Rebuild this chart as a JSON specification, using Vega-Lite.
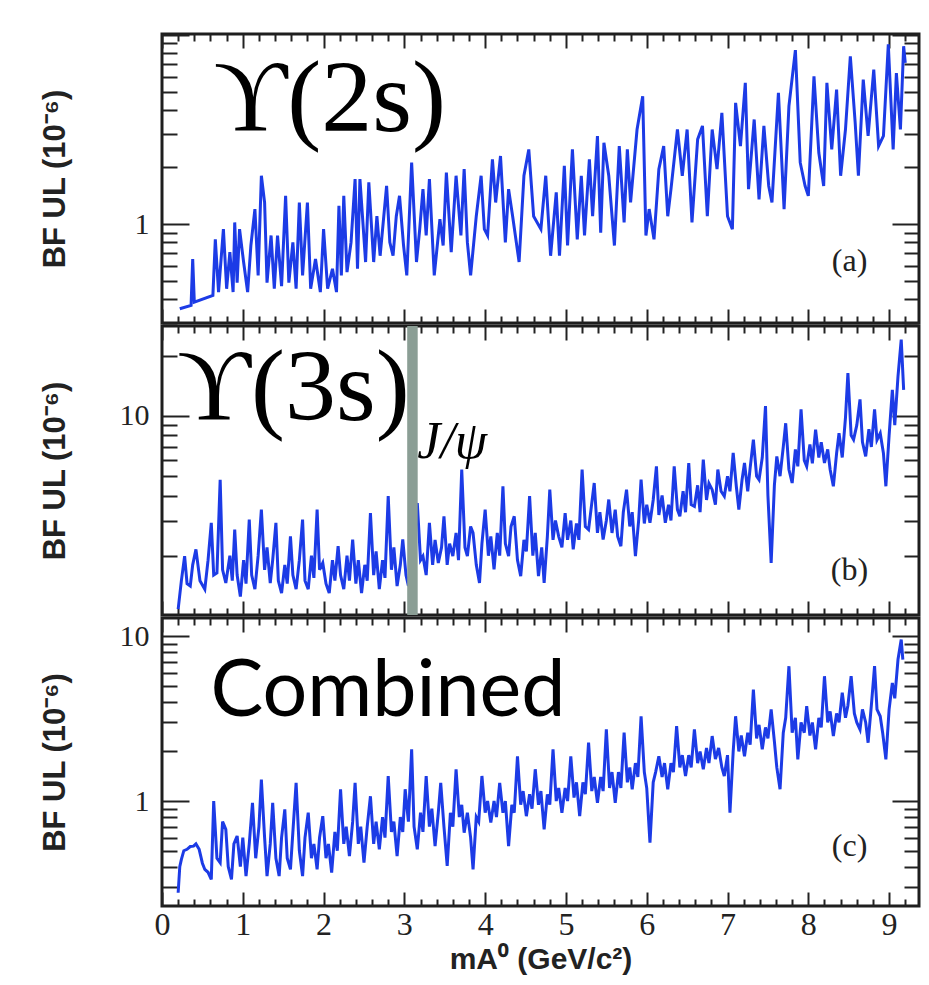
{
  "$schema": "https://vega.github.io/schema/vega-lite/v6.json",
  "padding": {"left": 37, "top": 31, "right": 0, "bottom": 0},
  "background": "white",
  "spacing": -3,
  "config": {
    "view": {"stroke": "#1e1e1e", "strokeWidth": 3},
    "axis": {"grid": false, "domain": false, "tickColor": "#222", "tickWidth": 2, "labelColor": "#222", "labelFont": "Liberation Serif", "titleColor": "#222", "titleFont": "Liberation Sans", "titleFontWeight": "bold", "labelOverlap": false, "labelFlush": false, "labelBound": false}
  },
  "datasets": {
    "a": [
      {"m":0.22,"ul":0.357},{"m":0.36,"ul":0.372},{"m":0.38,"ul":0.654},{"m":0.40,"ul":0.387},{"m":0.63,"ul":0.42},{"m":0.66,"ul":0.83},{"m":0.70,"ul":0.437},{"m":0.76,"ul":0.94},{"m":0.80,"ul":0.455},{"m":0.84,"ul":0.71},{"m":0.88,"ul":0.437},{"m":0.90,"ul":1.02},{"m":0.93,"ul":0.49},{"m":0.96,"ul":0.94},{"m":1.01,"ul":0.63},{"m":1.06,"ul":0.437},{"m":1.10,"ul":0.77},{"m":1.15,"ul":1.2},{"m":1.19,"ul":0.535},{"m":1.23,"ul":1.8},{"m":1.27,"ul":1.3},{"m":1.30,"ul":0.49},{"m":1.35,"ul":0.87},{"m":1.39,"ul":0.455},{"m":1.43,"ul":0.87},{"m":1.48,"ul":0.47},{"m":1.53,"ul":1.41},{"m":1.57,"ul":0.49},{"m":1.62,"ul":0.80},{"m":1.66,"ul":0.455},{"m":1.70,"ul":1.3},{"m":1.74,"ul":0.535},{"m":1.80,"ul":1.3},{"m":1.84,"ul":0.455},{"m":1.90,"ul":0.654},{"m":1.96,"ul":0.437},{"m":2.00,"ul":0.94},{"m":2.05,"ul":0.455},{"m":2.11,"ul":0.58},{"m":2.16,"ul":0.437},{"m":2.19,"ul":1.25},{"m":2.22,"ul":0.535},{"m":2.25,"ul":1.41},{"m":2.29,"ul":0.557},{"m":2.34,"ul":0.80},{"m":2.39,"ul":1.73},{"m":2.42,"ul":0.58},{"m":2.45,"ul":1.73},{"m":2.52,"ul":0.63},{"m":2.56,"ul":1.66},{"m":2.62,"ul":0.63},{"m":2.66,"ul":1.1},{"m":2.70,"ul":0.68},{"m":2.78,"ul":1.59},{"m":2.82,"ul":0.80},{"m":2.86,"ul":0.68},{"m":2.90,"ul":1.1},{"m":2.94,"ul":1.41},{"m":2.99,"ul":0.77},{"m":3.03,"ul":0.535},{"m":3.09,"ul":2.11},{"m":3.15,"ul":0.63},{"m":3.19,"ul":0.94},{"m":3.23,"ul":1.53},{"m":3.27,"ul":0.87},{"m":3.31,"ul":1.73},{"m":3.37,"ul":0.535},{"m":3.44,"ul":1.06},{"m":3.48,"ul":0.77},{"m":3.52,"ul":1.87},{"m":3.58,"ul":0.71},{"m":3.64,"ul":1.8},{"m":3.70,"ul":0.87},{"m":3.74,"ul":1.95},{"m":3.78,"ul":0.80},{"m":3.82,"ul":0.535},{"m":3.89,"ul":1.1},{"m":3.95,"ul":1.8},{"m":3.99,"ul":0.94},{"m":4.03,"ul":0.87},{"m":4.09,"ul":2.2},{"m":4.13,"ul":1.3},{"m":4.19,"ul":2.29},{"m":4.25,"ul":0.80},{"m":4.29,"ul":1.53},{"m":4.34,"ul":1.1},{"m":4.42,"ul":0.63},{"m":4.48,"ul":1.8},{"m":4.54,"ul":2.48},{"m":4.60,"ul":1.1},{"m":4.69,"ul":0.94},{"m":4.75,"ul":1.8},{"m":4.81,"ul":0.68},{"m":4.88,"ul":1.47},{"m":4.92,"ul":0.68},{"m":4.98,"ul":2.03},{"m":5.02,"ul":0.77},{"m":5.08,"ul":2.48},{"m":5.14,"ul":0.83},{"m":5.19,"ul":1.8},{"m":5.23,"ul":0.87},{"m":5.29,"ul":2.2},{"m":5.33,"ul":1.1},{"m":5.39,"ul":2.92},{"m":5.43,"ul":0.90},{"m":5.47,"ul":2.69},{"m":5.53,"ul":1.8},{"m":5.60,"ul":0.77},{"m":5.66,"ul":2.58},{"m":5.72,"ul":1.02},{"m":5.76,"ul":2.48},{"m":5.80,"ul":1.3},{"m":5.88,"ul":3.16},{"m":5.95,"ul":4.73},{"m":5.99,"ul":0.87},{"m":6.03,"ul":1.2},{"m":6.09,"ul":0.83},{"m":6.15,"ul":1.95},{"m":6.21,"ul":2.58},{"m":6.26,"ul":1.1},{"m":6.30,"ul":1.53},{"m":6.38,"ul":3.16},{"m":6.44,"ul":1.8},{"m":6.50,"ul":3.16},{"m":6.56,"ul":1.02},{"m":6.63,"ul":2.8},{"m":6.69,"ul":3.3},{"m":6.75,"ul":1.1},{"m":6.81,"ul":3.16},{"m":6.87,"ul":1.95},{"m":6.93,"ul":3.87},{"m":7.00,"ul":1.1},{"m":7.06,"ul":0.94},{"m":7.10,"ul":4.37},{"m":7.16,"ul":2.58},{"m":7.22,"ul":5.57},{"m":7.26,"ul":1.53},{"m":7.33,"ul":3.57},{"m":7.39,"ul":1.35},{"m":7.45,"ul":3.3},{"m":7.51,"ul":1.59},{"m":7.55,"ul":1.3},{"m":7.63,"ul":4.93},{"m":7.70,"ul":1.2},{"m":7.76,"ul":4.2},{"m":7.84,"ul":8.3},{"m":7.90,"ul":2.11},{"m":7.96,"ul":1.59},{"m":8.00,"ul":1.41},{"m":8.07,"ul":6.03},{"m":8.13,"ul":2.38},{"m":8.19,"ul":1.59},{"m":8.23,"ul":5.57},{"m":8.29,"ul":2.48},{"m":8.35,"ul":5.13},{"m":8.40,"ul":1.8},{"m":8.46,"ul":3.16},{"m":8.52,"ul":7.7},{"m":8.58,"ul":3.43},{"m":8.62,"ul":1.8},{"m":8.68,"ul":5.8},{"m":8.74,"ul":2.92},{"m":8.81,"ul":6.54},{"m":8.87,"ul":2.58},{"m":8.93,"ul":2.92},{"m":8.99,"ul":8.9},{"m":9.05,"ul":2.48},{"m":9.09,"ul":6.27},{"m":9.14,"ul":3.16},{"m":9.18,"ul":8.7},{"m":9.20,"ul":7.1}
    ],
    "b": [
      {"m":0.20,"ul":1.08},{"m":0.24,"ul":1.5},{"m":0.28,"ul":1.99},{"m":0.31,"ul":1.45},{"m":0.35,"ul":1.41},{"m":0.38,"ul":1.8},{"m":0.42,"ul":2.15},{"m":0.47,"ul":1.5},{"m":0.53,"ul":1.36},{"m":0.57,"ul":1.9},{"m":0.61,"ul":2.92},{"m":0.64,"ul":1.6},{"m":0.68,"ul":1.64},{"m":0.72,"ul":4.8},{"m":0.75,"ul":1.7},{"m":0.79,"ul":1.46},{"m":0.84,"ul":2.0},{"m":0.87,"ul":1.5},{"m":0.90,"ul":2.7},{"m":0.93,"ul":1.6},{"m":0.97,"ul":1.25},{"m":1.01,"ul":1.9},{"m":1.04,"ul":1.45},{"m":1.08,"ul":3.03},{"m":1.11,"ul":1.6},{"m":1.15,"ul":1.36},{"m":1.19,"ul":2.0},{"m":1.23,"ul":3.4},{"m":1.27,"ul":1.7},{"m":1.30,"ul":2.2},{"m":1.34,"ul":1.46},{"m":1.37,"ul":1.9},{"m":1.41,"ul":2.92},{"m":1.44,"ul":1.5},{"m":1.48,"ul":1.30},{"m":1.52,"ul":1.8},{"m":1.55,"ul":1.45},{"m":1.59,"ul":2.5},{"m":1.62,"ul":1.6},{"m":1.66,"ul":1.36},{"m":1.70,"ul":1.9},{"m":1.74,"ul":3.03},{"m":1.77,"ul":1.5},{"m":1.81,"ul":1.36},{"m":1.85,"ul":2.0},{"m":1.88,"ul":1.55},{"m":1.92,"ul":3.4},{"m":1.95,"ul":1.7},{"m":1.99,"ul":1.84},{"m":2.03,"ul":1.45},{"m":2.07,"ul":1.30},{"m":2.11,"ul":1.9},{"m":2.14,"ul":1.5},{"m":2.18,"ul":2.23},{"m":2.21,"ul":1.6},{"m":2.25,"ul":1.36},{"m":2.29,"ul":2.0},{"m":2.32,"ul":1.5},{"m":2.36,"ul":2.41},{"m":2.40,"ul":1.45},{"m":2.43,"ul":1.9},{"m":2.47,"ul":1.30},{"m":2.51,"ul":1.8},{"m":2.54,"ul":1.5},{"m":2.58,"ul":3.27},{"m":2.62,"ul":1.6},{"m":2.65,"ul":2.1},{"m":2.69,"ul":1.36},{"m":2.73,"ul":1.9},{"m":2.76,"ul":1.55},{"m":2.80,"ul":3.97},{"m":2.84,"ul":1.7},{"m":2.87,"ul":2.2},{"m":2.91,"ul":1.41},{"m":2.95,"ul":1.8},{"m":2.98,"ul":2.41},{"m":3.02,"ul":1.6},{"m":3.05,"ul":1.41},{"m":3.10,"ul":2.0},{"m":3.16,"ul":3.67},{"m":3.20,"ul":1.9},{"m":3.23,"ul":1.99},{"m":3.27,"ul":1.6},{"m":3.31,"ul":2.92},{"m":3.35,"ul":1.8},{"m":3.38,"ul":2.4},{"m":3.42,"ul":1.84},{"m":3.46,"ul":2.2},{"m":3.49,"ul":3.15},{"m":3.53,"ul":1.8},{"m":3.56,"ul":2.3},{"m":3.60,"ul":1.99},{"m":3.64,"ul":2.6},{"m":3.67,"ul":1.9},{"m":3.71,"ul":5.4},{"m":3.75,"ul":2.2},{"m":3.78,"ul":1.99},{"m":3.82,"ul":2.8},{"m":3.85,"ul":2.6},{"m":3.89,"ul":1.8},{"m":3.93,"ul":1.46},{"m":3.96,"ul":2.3},{"m":4.00,"ul":3.4},{"m":4.04,"ul":2.0},{"m":4.07,"ul":2.5},{"m":4.11,"ul":1.71},{"m":4.15,"ul":2.6},{"m":4.18,"ul":2.0},{"m":4.22,"ul":4.45},{"m":4.25,"ul":2.3},{"m":4.29,"ul":1.99},{"m":4.32,"ul":2.8},{"m":4.36,"ul":3.15},{"m":4.40,"ul":1.9},{"m":4.44,"ul":1.58},{"m":4.48,"ul":2.4},{"m":4.51,"ul":2.1},{"m":4.55,"ul":3.97},{"m":4.59,"ul":2.0},{"m":4.62,"ul":2.6},{"m":4.66,"ul":1.58},{"m":4.70,"ul":2.2},{"m":4.73,"ul":1.46},{"m":4.77,"ul":2.5},{"m":4.80,"ul":4.28},{"m":4.84,"ul":2.4},{"m":4.87,"ul":3.0},{"m":4.91,"ul":2.5},{"m":4.95,"ul":2.2},{"m":4.99,"ul":3.27},{"m":5.02,"ul":2.4},{"m":5.06,"ul":3.0},{"m":5.09,"ul":2.15},{"m":5.13,"ul":2.9},{"m":5.16,"ul":2.4},{"m":5.20,"ul":5.4},{"m":5.24,"ul":2.8},{"m":5.28,"ul":2.7},{"m":5.31,"ul":3.4},{"m":5.35,"ul":4.62},{"m":5.39,"ul":2.6},{"m":5.42,"ul":3.3},{"m":5.46,"ul":2.41},{"m":5.50,"ul":3.0},{"m":5.53,"ul":3.82},{"m":5.57,"ul":2.6},{"m":5.61,"ul":3.4},{"m":5.64,"ul":2.5},{"m":5.68,"ul":2.23},{"m":5.71,"ul":3.3},{"m":5.75,"ul":4.28},{"m":5.79,"ul":2.8},{"m":5.82,"ul":3.3},{"m":5.86,"ul":1.99},{"m":5.90,"ul":3.0},{"m":5.93,"ul":4.8},{"m":5.97,"ul":2.9},{"m":6.00,"ul":3.6},{"m":6.04,"ul":2.92},{"m":6.08,"ul":3.8},{"m":6.12,"ul":5.6},{"m":6.15,"ul":3.2},{"m":6.19,"ul":4.0},{"m":6.23,"ul":2.92},{"m":6.27,"ul":3.6},{"m":6.30,"ul":3.0},{"m":6.34,"ul":5.6},{"m":6.38,"ul":3.4},{"m":6.41,"ul":3.15},{"m":6.45,"ul":4.2},{"m":6.48,"ul":3.3},{"m":6.52,"ul":5.82},{"m":6.55,"ul":3.6},{"m":6.59,"ul":3.53},{"m":6.63,"ul":4.5},{"m":6.66,"ul":3.3},{"m":6.70,"ul":6.05},{"m":6.74,"ul":3.8},{"m":6.77,"ul":4.6},{"m":6.81,"ul":4.28},{"m":6.85,"ul":3.6},{"m":6.88,"ul":5.4},{"m":6.92,"ul":4.2},{"m":6.96,"ul":3.97},{"m":7.00,"ul":5.0},{"m":7.03,"ul":4.2},{"m":7.07,"ul":6.53},{"m":7.11,"ul":4.4},{"m":7.14,"ul":3.4},{"m":7.18,"ul":4.8},{"m":7.21,"ul":5.82},{"m":7.25,"ul":4.2},{"m":7.28,"ul":5.5},{"m":7.32,"ul":7.62},{"m":7.36,"ul":5.0},{"m":7.39,"ul":4.8},{"m":7.43,"ul":6.2},{"m":7.47,"ul":11.2},{"m":7.50,"ul":4.0},{"m":7.54,"ul":1.84},{"m":7.58,"ul":4.5},{"m":7.61,"ul":6.28},{"m":7.65,"ul":5.0},{"m":7.69,"ul":7.0},{"m":7.72,"ul":9.2},{"m":7.76,"ul":5.4},{"m":7.80,"ul":4.62},{"m":7.84,"ul":6.8},{"m":7.87,"ul":5.6},{"m":7.91,"ul":10.8},{"m":7.95,"ul":6.0},{"m":7.98,"ul":5.6},{"m":8.02,"ul":7.2},{"m":8.05,"ul":5.8},{"m":8.09,"ul":8.55},{"m":8.13,"ul":6.2},{"m":8.16,"ul":7.4},{"m":8.20,"ul":5.82},{"m":8.24,"ul":6.8},{"m":8.27,"ul":5.4},{"m":8.31,"ul":4.45},{"m":8.35,"ul":6.5},{"m":8.38,"ul":8.2},{"m":8.42,"ul":6.2},{"m":8.46,"ul":9.8},{"m":8.49,"ul":16.4},{"m":8.53,"ul":8.0},{"m":8.56,"ul":7.62},{"m":8.60,"ul":9.0},{"m":8.64,"ul":12.1},{"m":8.67,"ul":7.4},{"m":8.71,"ul":6.28},{"m":8.75,"ul":8.6},{"m":8.78,"ul":7.0},{"m":8.82,"ul":10.8},{"m":8.85,"ul":7.6},{"m":8.89,"ul":8.2},{"m":8.93,"ul":6.5},{"m":8.96,"ul":4.45},{"m":9.00,"ul":8.0},{"m":9.04,"ul":13.5},{"m":9.07,"ul":9.0},{"m":9.11,"ul":15.8},{"m":9.15,"ul":24.1},{"m":9.18,"ul":13.5}
    ],
    "c": [
      {"m":0.20,"ul":0.278},{"m":0.22,"ul":0.40},{"m":0.24,"ul":0.443},{"m":0.27,"ul":0.50},{"m":0.31,"ul":0.51},{"m":0.35,"ul":0.53},{"m":0.39,"ul":0.533},{"m":0.42,"ul":0.55},{"m":0.46,"ul":0.51},{"m":0.50,"ul":0.42},{"m":0.53,"ul":0.385},{"m":0.57,"ul":0.37},{"m":0.61,"ul":0.335},{"m":0.64,"ul":1.0},{"m":0.68,"ul":0.45},{"m":0.72,"ul":0.423},{"m":0.75,"ul":0.75},{"m":0.79,"ul":0.673},{"m":0.82,"ul":0.40},{"m":0.86,"ul":0.335},{"m":0.89,"ul":0.55},{"m":0.93,"ul":0.614},{"m":0.97,"ul":0.40},{"m":1.00,"ul":0.60},{"m":1.04,"ul":0.351},{"m":1.08,"ul":0.55},{"m":1.12,"ul":0.977},{"m":1.16,"ul":0.45},{"m":1.20,"ul":0.70},{"m":1.23,"ul":1.35},{"m":1.27,"ul":0.60},{"m":1.30,"ul":0.351},{"m":1.34,"ul":0.55},{"m":1.37,"ul":0.977},{"m":1.41,"ul":0.45},{"m":1.45,"ul":0.351},{"m":1.48,"ul":0.60},{"m":1.52,"ul":0.89},{"m":1.55,"ul":0.45},{"m":1.59,"ul":0.385},{"m":1.62,"ul":0.65},{"m":1.66,"ul":1.29},{"m":1.70,"ul":0.50},{"m":1.74,"ul":0.351},{"m":1.77,"ul":0.60},{"m":1.81,"ul":0.85},{"m":1.85,"ul":0.45},{"m":1.88,"ul":0.55},{"m":1.92,"ul":0.385},{"m":1.95,"ul":0.60},{"m":1.99,"ul":0.81},{"m":2.03,"ul":0.45},{"m":2.06,"ul":0.55},{"m":2.10,"ul":0.368},{"m":2.14,"ul":0.65},{"m":2.17,"ul":0.50},{"m":2.21,"ul":1.18},{"m":2.25,"ul":0.55},{"m":2.28,"ul":0.70},{"m":2.32,"ul":0.464},{"m":2.36,"ul":0.75},{"m":2.39,"ul":1.29},{"m":2.43,"ul":0.55},{"m":2.46,"ul":0.70},{"m":2.50,"ul":0.423},{"m":2.54,"ul":0.70},{"m":2.58,"ul":1.07},{"m":2.62,"ul":0.55},{"m":2.65,"ul":0.75},{"m":2.69,"ul":0.51},{"m":2.73,"ul":0.80},{"m":2.76,"ul":0.60},{"m":2.80,"ul":1.42},{"m":2.84,"ul":0.65},{"m":2.87,"ul":0.75},{"m":2.91,"ul":0.464},{"m":2.95,"ul":0.80},{"m":2.98,"ul":0.65},{"m":3.01,"ul":1.18},{"m":3.05,"ul":0.75},{"m":3.09,"ul":2.06},{"m":3.12,"ul":0.70},{"m":3.16,"ul":0.51},{"m":3.20,"ul":0.85},{"m":3.23,"ul":0.65},{"m":3.27,"ul":1.42},{"m":3.31,"ul":0.70},{"m":3.34,"ul":0.90},{"m":3.38,"ul":0.533},{"m":3.42,"ul":0.85},{"m":3.45,"ul":1.29},{"m":3.49,"ul":0.70},{"m":3.53,"ul":0.404},{"m":3.57,"ul":0.85},{"m":3.60,"ul":0.70},{"m":3.64,"ul":1.56},{"m":3.68,"ul":0.80},{"m":3.71,"ul":0.95},{"m":3.74,"ul":0.643},{"m":3.78,"ul":0.85},{"m":3.82,"ul":0.60},{"m":3.85,"ul":0.385},{"m":3.89,"ul":0.80},{"m":3.92,"ul":0.75},{"m":3.96,"ul":1.42},{"m":4.00,"ul":0.85},{"m":4.03,"ul":1.0},{"m":4.07,"ul":0.74},{"m":4.11,"ul":1.0},{"m":4.14,"ul":0.80},{"m":4.18,"ul":1.29},{"m":4.22,"ul":0.85},{"m":4.25,"ul":1.0},{"m":4.29,"ul":0.533},{"m":4.33,"ul":0.95},{"m":4.36,"ul":0.85},{"m":4.40,"ul":1.87},{"m":4.44,"ul":0.95},{"m":4.47,"ul":1.15},{"m":4.51,"ul":0.81},{"m":4.55,"ul":1.1},{"m":4.58,"ul":0.90},{"m":4.62,"ul":1.56},{"m":4.66,"ul":0.95},{"m":4.69,"ul":1.15},{"m":4.73,"ul":0.673},{"m":4.77,"ul":1.1},{"m":4.80,"ul":0.95},{"m":4.84,"ul":2.06},{"m":4.88,"ul":1.0},{"m":4.91,"ul":1.2},{"m":4.95,"ul":0.85},{"m":4.99,"ul":1.2},{"m":5.02,"ul":1.0},{"m":5.06,"ul":1.87},{"m":5.10,"ul":1.05},{"m":5.13,"ul":1.3},{"m":5.17,"ul":0.81},{"m":5.21,"ul":1.3},{"m":5.24,"ul":1.1},{"m":5.28,"ul":2.26},{"m":5.32,"ul":1.15},{"m":5.35,"ul":1.4},{"m":5.39,"ul":0.977},{"m":5.43,"ul":1.4},{"m":5.46,"ul":1.15},{"m":5.50,"ul":2.72},{"m":5.54,"ul":1.2},{"m":5.57,"ul":1.5},{"m":5.61,"ul":0.977},{"m":5.65,"ul":1.5},{"m":5.68,"ul":1.2},{"m":5.72,"ul":2.6},{"m":5.76,"ul":1.3},{"m":5.79,"ul":1.6},{"m":5.82,"ul":1.18},{"m":5.86,"ul":1.7},{"m":5.89,"ul":1.4},{"m":5.93,"ul":3.27},{"m":5.97,"ul":1.5},{"m":6.00,"ul":1.2},{"m":6.04,"ul":0.56},{"m":6.08,"ul":1.3},{"m":6.11,"ul":1.5},{"m":6.15,"ul":1.87},{"m":6.19,"ul":1.4},{"m":6.22,"ul":1.7},{"m":6.26,"ul":1.18},{"m":6.30,"ul":1.7},{"m":6.33,"ul":1.5},{"m":6.37,"ul":2.85},{"m":6.41,"ul":1.6},{"m":6.44,"ul":1.9},{"m":6.48,"ul":1.42},{"m":6.52,"ul":1.9},{"m":6.55,"ul":1.6},{"m":6.59,"ul":2.72},{"m":6.63,"ul":1.7},{"m":6.66,"ul":2.0},{"m":6.70,"ul":1.56},{"m":6.74,"ul":2.1},{"m":6.77,"ul":1.7},{"m":6.81,"ul":2.48},{"m":6.85,"ul":1.8},{"m":6.89,"ul":2.1},{"m":6.93,"ul":1.6},{"m":6.96,"ul":1.42},{"m":7.00,"ul":1.9},{"m":7.03,"ul":0.85},{"m":7.07,"ul":2.0},{"m":7.10,"ul":3.27},{"m":7.14,"ul":2.0},{"m":7.17,"ul":2.5},{"m":7.21,"ul":1.87},{"m":7.25,"ul":2.6},{"m":7.28,"ul":2.2},{"m":7.32,"ul":4.75},{"m":7.36,"ul":2.4},{"m":7.39,"ul":2.9},{"m":7.43,"ul":2.06},{"m":7.47,"ul":2.8},{"m":7.50,"ul":2.4},{"m":7.54,"ul":3.6},{"m":7.58,"ul":2.3},{"m":7.61,"ul":1.6},{"m":7.65,"ul":1.18},{"m":7.69,"ul":2.6},{"m":7.72,"ul":3.2},{"m":7.76,"ul":6.58},{"m":7.80,"ul":2.6},{"m":7.84,"ul":3.2},{"m":7.87,"ul":1.79},{"m":7.91,"ul":3.0},{"m":7.95,"ul":2.6},{"m":7.98,"ul":3.77},{"m":8.02,"ul":2.5},{"m":8.05,"ul":3.0},{"m":8.09,"ul":2.06},{"m":8.13,"ul":3.2},{"m":8.16,"ul":2.8},{"m":8.20,"ul":5.72},{"m":8.24,"ul":3.0},{"m":8.27,"ul":3.5},{"m":8.31,"ul":2.48},{"m":8.35,"ul":3.4},{"m":8.38,"ul":3.0},{"m":8.42,"ul":4.54},{"m":8.46,"ul":3.2},{"m":8.49,"ul":3.8},{"m":8.53,"ul":5.72},{"m":8.57,"ul":3.4},{"m":8.60,"ul":3.0},{"m":8.64,"ul":2.72},{"m":8.67,"ul":3.6},{"m":8.71,"ul":3.0},{"m":8.74,"ul":2.26},{"m":8.78,"ul":3.8},{"m":8.82,"ul":6.58},{"m":8.85,"ul":3.6},{"m":8.89,"ul":3.27},{"m":8.92,"ul":2.6},{"m":8.96,"ul":1.79},{"m":9.00,"ul":3.6},{"m":9.04,"ul":5.21},{"m":9.07,"ul":4.2},{"m":9.11,"ul":7.22},{"m":9.15,"ul":9.55},{"m":9.17,"ul":7.22}
    ]
  },
  "vconcat": [
    {
      "width": 757, "height": 289,
      "layer": [
        {
          "data": {"name": "a"},
          "mark": {"type": "line", "color": "#1c3be6", "strokeWidth": 3},
          "encoding": {
            "x": {"field": "m", "type": "quantitative", "scale": {"domain": [0, 9.37], "nice": false, "zero": false},
              "axis": {"orient": "bottom", "values": [0,0.2,0.4,0.6,0.8,1,1.2,1.4,1.6,1.8,2,2.2,2.4,2.6,2.8,3,3.2,3.4,3.6,3.8,4,4.2,4.4,4.6,4.8,5,5.2,5.4,5.6,5.8,6,6.2,6.4,6.6,6.8,7,7.2,7.4,7.6,7.8,8,8.2,8.4,8.6,8.8,9,9.2], "labels": false, "title": null,
                "tickSize": {"condition": {"test": "datum.value % 1 == 0", "value": -14}, "value": -7}}},
            "y": {"field": "ul", "type": "quantitative", "scale": {"type": "log", "domain": [0.3, 10.1], "nice": false},
              "axis": {"orient": "left", "values": [0.3,0.4,0.5,0.6,0.7,0.8,0.9,1,2,3,4,5,6,7,8,9,10], "labelExpr": "datum.value == 1 ? '1' : ''",
                "labelFontSize": {"condition": {"test": "datum.value == 1", "value": 30}, "value": 0}, "labelPadding": 40,
                "tickSize": {"condition": {"test": "datum.value == 1 || datum.value == 10", "value": -27}, "value": -15},
                "title": "BF UL (10⁻⁶)", "titleFontSize": 31, "titleX": -91}}
          }
        },
        {
          "data": {"values": [{"m": 0.64, "ul": 3.1, "label": "ϒ(2s)"}]},
          "mark": {"type": "text", "align": "left", "baseline": "alphabetic", "font": "Liberation Serif, DejaVu Serif", "fontSize": 102, "color": "#000"},
          "encoding": {
            "x": {"field": "m", "type": "quantitative",
              "axis": {"orient": "top", "values": [0,0.2,0.4,0.6,0.8,1,1.2,1.4,1.6,1.8,2,2.2,2.4,2.6,2.8,3,3.2,3.4,3.6,3.8,4,4.2,4.4,4.6,4.8,5,5.2,5.4,5.6,5.8,6,6.2,6.4,6.6,6.8,7,7.2,7.4,7.6,7.8,8,8.2,8.4,8.6,8.8,9,9.2], "labels": false, "title": null,
                "tickSize": {"condition": {"test": "datum.value % 1 == 0", "value": -14}, "value": -7}}},
            "y": {"field": "ul", "type": "quantitative",
              "axis": {"orient": "right", "values": [0.3,0.4,0.5,0.6,0.7,0.8,0.9,1,2,3,4,5,6,7,8,9,10], "labels": false, "title": null,
                "tickSize": {"condition": {"test": "datum.value == 1 || datum.value == 10", "value": -27}, "value": -15}}},
            "text": {"field": "label"}
          }
        },
        {
          "data": {"values": [{"m": 8.51, "ul": 0.637, "label": "(a)"}]},
          "mark": {"type": "text", "align": "center", "baseline": "middle", "font": "Liberation Serif", "fontSize": 32, "color": "#222"},
          "encoding": {
            "x": {"field": "m", "type": "quantitative", "axis": null},
            "y": {"field": "ul", "type": "quantitative", "axis": null},
            "text": {"field": "label"}
          }
        }
      ],
      "resolve": {"axis": {"x": "independent", "y": "independent"}}
    },
    {
      "width": 757, "height": 289,
      "layer": [
        {
          "data": {"name": "b"},
          "mark": {"type": "line", "color": "#1c3be6", "strokeWidth": 3},
          "encoding": {
            "x": {"field": "m", "type": "quantitative", "scale": {"domain": [0, 9.37], "nice": false, "zero": false},
              "axis": {"orient": "bottom", "values": [0,0.2,0.4,0.6,0.8,1,1.2,1.4,1.6,1.8,2,2.2,2.4,2.6,2.8,3,3.2,3.4,3.6,3.8,4,4.2,4.4,4.6,4.8,5,5.2,5.4,5.6,5.8,6,6.2,6.4,6.6,6.8,7,7.2,7.4,7.6,7.8,8,8.2,8.4,8.6,8.8,9,9.2], "labels": false, "title": null,
                "tickSize": {"condition": {"test": "datum.value % 1 == 0", "value": -14}, "value": -7}}},
            "y": {"field": "ul", "type": "quantitative", "scale": {"type": "log", "domain": [1.01, 28.2], "nice": false},
              "axis": {"orient": "left", "values": [2,3,4,5,6,7,8,9,10,20], "labelExpr": "datum.value == 10 ? '10' : ''",
                "labelFontSize": {"condition": {"test": "datum.value == 10", "value": 30}, "value": 0}, "labelPadding": 40,
                "tickSize": {"condition": {"test": "datum.value == 1 || datum.value == 10", "value": -27}, "value": -15},
                "title": "BF UL (10⁻⁶)", "titleFontSize": 31, "titleX": -91}}
          }
        },
        {
          "data": {"values": [{"m": 3.035, "m2": 3.165}]},
          "mark": {"type": "rect", "color": "#8b9e95"},
          "encoding": {"x": {"field": "m", "type": "quantitative", "axis": null}, "x2": {"field": "m2"}}
        },
        {
          "data": {"values": [{"m": 0.19, "ul": 9.6, "label": "ϒ(3s)"}]},
          "mark": {"type": "text", "align": "left", "baseline": "alphabetic", "font": "Liberation Serif, DejaVu Serif", "fontSize": 102, "color": "#000"},
          "encoding": {
            "x": {"field": "m", "type": "quantitative",
              "axis": {"orient": "top", "values": [0,0.2,0.4,0.6,0.8,1,1.2,1.4,1.6,1.8,2,2.2,2.4,2.6,2.8,3,3.2,3.4,3.6,3.8,4,4.2,4.4,4.6,4.8,5,5.2,5.4,5.6,5.8,6,6.2,6.4,6.6,6.8,7,7.2,7.4,7.6,7.8,8,8.2,8.4,8.6,8.8,9,9.2], "labels": false, "title": null,
                "tickSize": {"condition": {"test": "datum.value % 1 == 0", "value": -14}, "value": -7}}},
            "y": {"field": "ul", "type": "quantitative",
              "axis": {"orient": "right", "values": [2,3,4,5,6,7,8,9,10,20], "labels": false, "title": null,
                "tickSize": {"condition": {"test": "datum.value == 1 || datum.value == 10", "value": -27}, "value": -15}}},
            "text": {"field": "label"}
          }
        },
        {
          "data": {"values": [{"m": 3.16, "ul": 6.17, "label": "J/ψ"}]},
          "mark": {"type": "text", "align": "left", "baseline": "alphabetic", "font": "Liberation Serif", "fontStyle": "italic", "fontSize": 52, "color": "#000"},
          "encoding": {
            "x": {"field": "m", "type": "quantitative", "axis": null},
            "y": {"field": "ul", "type": "quantitative", "axis": null},
            "text": {"field": "label"}
          }
        },
        {
          "data": {"values": [{"m": 8.51, "ul": 1.70, "label": "(b)"}]},
          "mark": {"type": "text", "align": "center", "baseline": "middle", "font": "Liberation Serif", "fontSize": 32, "color": "#222"},
          "encoding": {
            "x": {"field": "m", "type": "quantitative", "axis": null},
            "y": {"field": "ul", "type": "quantitative", "axis": null},
            "text": {"field": "label"}
          }
        }
      ],
      "resolve": {"axis": {"x": "independent", "y": "independent"}}
    },
    {
      "width": 757, "height": 288,
      "layer": [
        {
          "data": {"name": "c"},
          "mark": {"type": "line", "color": "#1c3be6", "strokeWidth": 3},
          "encoding": {
            "x": {"field": "m", "type": "quantitative", "scale": {"domain": [0, 9.37], "nice": false, "zero": false},
              "axis": {"orient": "bottom", "values": [0,0.2,0.4,0.6,0.8,1,1.2,1.4,1.6,1.8,2,2.2,2.4,2.6,2.8,3,3.2,3.4,3.6,3.8,4,4.2,4.4,4.6,4.8,5,5.2,5.4,5.6,5.8,6,6.2,6.4,6.6,6.8,7,7.2,7.4,7.6,7.8,8,8.2,8.4,8.6,8.8,9,9.2],
                "labelExpr": "datum.value % 1 == 0 ? format(datum.value, 'd') : ''",
                "labelFontSize": {"condition": {"test": "datum.value % 1 == 0", "value": 32}, "value": 0}, "labelPadding": 17,
                "tickSize": {"condition": {"test": "datum.value % 1 == 0", "value": -14}, "value": -7},
                "title": "mA⁰ (GeV/c²)", "titleFontSize": 30, "titlePadding": 4}},
            "y": {"field": "ul", "type": "quantitative", "scale": {"type": "log", "domain": [0.231, 12.9], "nice": false},
              "axis": {"orient": "left", "values": [0.3,0.4,0.5,0.6,0.7,0.8,0.9,1,2,3,4,5,6,7,8,9,10], "labelExpr": "datum.value == 1 || datum.value == 10 ? format(datum.value, 'd') : ''",
                "labelFontSize": {"condition": {"test": "datum.value == 1 || datum.value == 10", "value": 30}, "value": 0}, "labelPadding": 40,
                "tickSize": {"condition": {"test": "datum.value == 1 || datum.value == 10", "value": -27}, "value": -15},
                "title": "BF UL (10⁻⁶)", "titleFontSize": 31, "titleX": -91}}
          }
        },
        {
          "data": {"values": [{"m": 0.6, "ul": 3.27, "label": "Combined"}]},
          "mark": {"type": "text", "align": "left", "baseline": "alphabetic", "font": "Lato", "fontSize": 79, "color": "#000"},
          "encoding": {
            "x": {"field": "m", "type": "quantitative",
              "axis": {"orient": "top", "values": [0,0.2,0.4,0.6,0.8,1,1.2,1.4,1.6,1.8,2,2.2,2.4,2.6,2.8,3,3.2,3.4,3.6,3.8,4,4.2,4.4,4.6,4.8,5,5.2,5.4,5.6,5.8,6,6.2,6.4,6.6,6.8,7,7.2,7.4,7.6,7.8,8,8.2,8.4,8.6,8.8,9,9.2], "labels": false, "title": null,
                "tickSize": {"condition": {"test": "datum.value % 1 == 0", "value": -14}, "value": -7}}},
            "y": {"field": "ul", "type": "quantitative",
              "axis": {"orient": "right", "values": [0.3,0.4,0.5,0.6,0.7,0.8,0.9,1,2,3,4,5,6,7,8,9,10], "labels": false, "title": null,
                "tickSize": {"condition": {"test": "datum.value == 1 || datum.value == 10", "value": -27}, "value": -15}}},
            "text": {"field": "label"}
          }
        },
        {
          "data": {"values": [{"m": 8.51, "ul": 0.533, "label": "(c)"}]},
          "mark": {"type": "text", "align": "center", "baseline": "middle", "font": "Liberation Serif", "fontSize": 32, "color": "#222"},
          "encoding": {
            "x": {"field": "m", "type": "quantitative", "axis": null},
            "y": {"field": "ul", "type": "quantitative", "axis": null},
            "text": {"field": "label"}
          }
        }
      ],
      "resolve": {"axis": {"x": "independent", "y": "independent"}}
    }
  ]
}
